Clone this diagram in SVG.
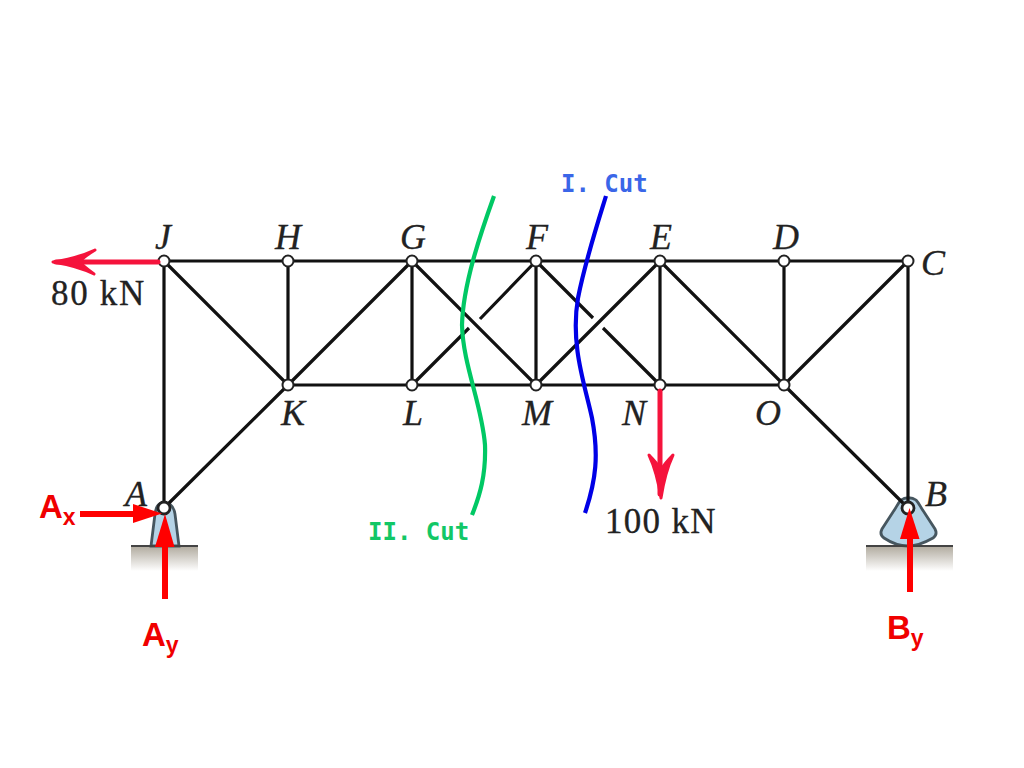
<svg xmlns="http://www.w3.org/2000/svg" width="1024" height="768" viewBox="0 0 1024 768">
<style>
.m{stroke:#111;stroke-width:3.2;fill:none;stroke-linecap:butt}
.p{fill:#fff;stroke:#222;stroke-width:2}
.pb{fill:#fff;stroke:#222;stroke-width:2.8}
.l{font-family:"Liberation Serif",serif;font-style:italic;font-size:36px;fill:#222;text-anchor:middle;stroke:#222;stroke-width:.3}
.v{font-family:"Liberation Serif",serif;font-size:35px;fill:#222;stroke:#222;stroke-width:.3}
.r{font-family:"Liberation Sans",sans-serif;font-weight:bold;font-size:33px;fill:#f00000}
.cut{font-family:"DejaVu Sans Mono",monospace;font-weight:bold;font-size:24px}
.fr{stroke:#f5133c;stroke-width:5;fill:none;stroke-linecap:round;stroke-linejoin:round}
.frh{fill:#f5133c;stroke:#f5133c;stroke-width:3;stroke-linejoin:round}
.rx{stroke:#f00;stroke-width:6;fill:none}
.sup{fill:#b5d3e6;stroke:#46565f;stroke-width:2.8}
</style>
<defs>
<linearGradient id="g" x1="0" y1="0" x2="0" y2="1"><stop offset="0" stop-color="#b0aa9e"/><stop offset="1" stop-color="#fff"/></linearGradient>
</defs>
<rect width="1024" height="768" fill="#fff"/>
<g id="supports">
<rect x="131" y="546" width="67" height="25" fill="url(#g)"/>
<rect x="866" y="546" width="87" height="25" fill="url(#g)"/>
<path class="sup" d="M164 503C172 503 174 508 175 514L179 546H151L155 514C156 508 157 503 164 503Z"/>
<path class="sup" d="M901 500C905 497 912 497 916 500C919 503 921 508 924 512L935 529C937 533 936 536 933 538C926 542 917 546 908 546C899 546 890 542 884 538C881 536 880 533 882 529L893 512C896 508 898 503 901 500Z"/>
<path d="M131 546H198M866 546H953" stroke="#444" stroke-width="2" fill="none"/>
</g>
<g id="connectors">
<path class="m" d="M164 261H908M288 385H784M164 261V508M288 261V385M412 261V385M536 261V385M660 261V385M784 261V385M908 261V508"/>
<path class="m" d="M164 261L288 385M288 385L412 261M288 385L164 508M412 261L536 385M412 385L469 328M480 319L536 261M536 261L593 318M603 328L660 385M536 385L660 261M660 261L784 385M784 385L908 261M784 385L908 508"/>
</g>
<g id="node-J"><circle class="p" cx="164" cy="261" r="5.5"/><text class="l" x="163" y="249">J</text></g>
<g id="node-H"><circle class="p" cx="288" cy="261" r="5.5"/><text class="l" x="288" y="249">H</text></g>
<g id="node-G"><circle class="p" cx="412" cy="261" r="5.5"/><text class="l" x="413" y="249">G</text></g>
<g id="node-F"><circle class="p" cx="536" cy="261" r="5.5"/><text class="l" x="537" y="249">F</text></g>
<g id="node-E"><circle class="p" cx="660" cy="261" r="5.5"/><text class="l" x="661" y="249">E</text></g>
<g id="node-D"><circle class="p" cx="784" cy="261" r="5.5"/><text class="l" x="786" y="249">D</text></g>
<g id="node-C"><circle class="p" cx="908" cy="261" r="5.5"/><text class="l" x="933" y="275">C</text></g>
<g id="node-K"><circle class="p" cx="288" cy="385" r="5.5"/><text class="l" x="293" y="425">K</text></g>
<g id="node-L"><circle class="p" cx="412" cy="385" r="5.5"/><text class="l" x="413" y="425">L</text></g>
<g id="node-M"><circle class="p" cx="536" cy="385" r="5.5"/><text class="l" x="537" y="425">M</text></g>
<g id="node-N"><circle class="p" cx="660" cy="385" r="5.5"/><text class="l" x="634" y="425">N</text></g>
<g id="node-O"><circle class="p" cx="784" cy="385" r="5.5"/><text class="l" x="768" y="425">O</text></g>
<g id="node-A"><circle class="pb" cx="164" cy="508" r="6"/><text class="l" x="136" y="506">A</text></g>
<g id="node-B"><circle class="pb" cx="908" cy="508" r="6"/><text class="l" x="936" y="506">B</text></g>
<g id="loads">
<path class="fr" d="M158 262H56"/>
<path class="frh" d="M95 250Q78 258 53 262Q78 266 94 274Q82 265 80 262Q82 258 95 250Z"/>
<path class="fr" d="M660 391V494"/>
<path class="frh" d="M649 455Q657 472 661 498Q665 472 673 455Q664 464 661 470Q658 464 649 455Z"/>
<text class="v" x="51" y="305" letter-spacing="1.7">80 kN</text>
<text class="v" x="605" y="533" letter-spacing="1.3">100 kN</text>
</g>
<g id="cut-1">
<path d="M606 196C598 222 585 262 578 298C570 345 585 385 592 418C599 455 596 480 585 513" fill="none" stroke="#0000e6" stroke-width="4.2"/>
<text class="cut" x="561" y="192" fill="#3a66e8">I. Cut</text>
</g>
<g id="cut-2">
<path d="M494 196C480 235 463 285 462 325C463 365 482 405 485 445C486 475 480 495 472 515" fill="none" stroke="#00c864" stroke-width="4.2"/>
<text class="cut" x="368" y="540" fill="#12c766">II. Cut</text>
</g>
<g id="reaction-Ax">
<path class="rx" d="M80 514H135"/><path d="M133 504L162 513.500L133 523Z" fill="#f00"/>
<text class="r" x="39" y="518">A<tspan font-size="23" dy="7">x</tspan></text>
</g>
<g id="reaction-Ay">
<path class="rx" d="M165 599V545"/><path d="M165 514L174.500 547H155Z" fill="#f00"/>
<text class="r" x="142" y="646">A<tspan font-size="23" dy="7">y</tspan></text>
</g>
<g id="reaction-By">
<path class="rx" d="M910 592V535"/><path d="M909.500 508L919.500 539H900Z" fill="#f00"/>
<text class="r" x="887" y="639">B<tspan font-size="23" dy="7">y</tspan></text>
</g>
</svg>
